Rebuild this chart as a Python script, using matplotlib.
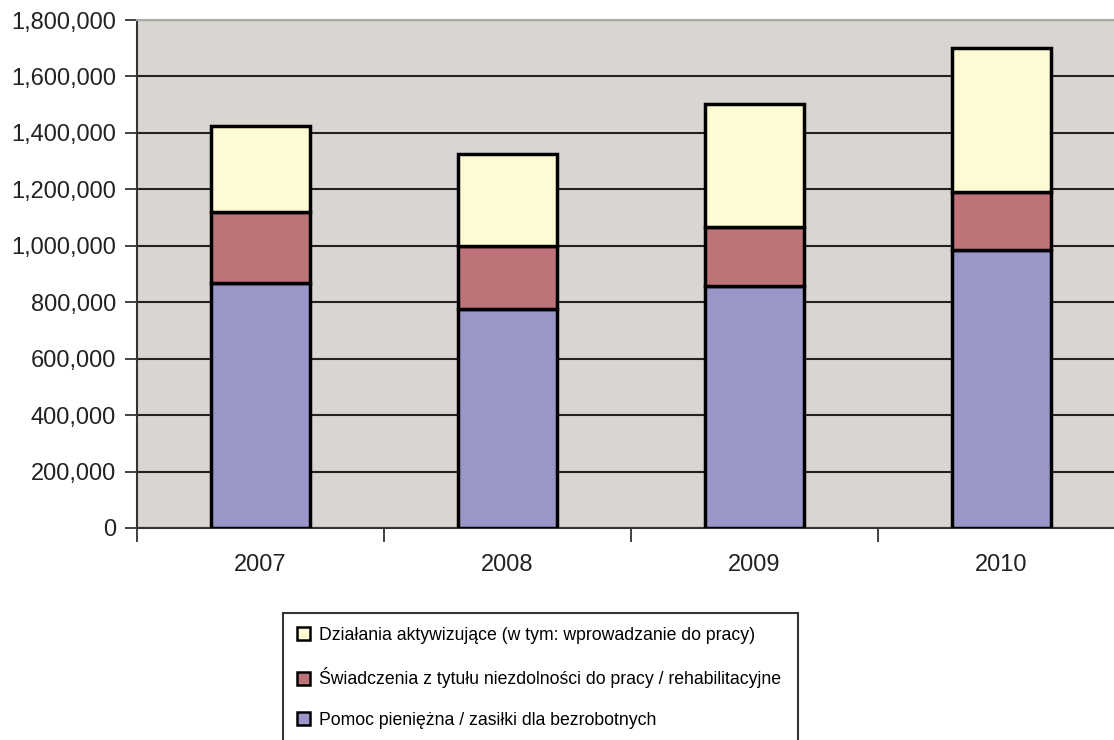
import numpy as np
import matplotlib.pyplot as plt
from matplotlib.patches import Patch

years = ['2007', '2008', '2009', '2010']
pomoc = [868000, 776000, 857000, 985000]
swiadczenia = [252000, 223000, 210000, 206000]
dzialania = [304000, 326000, 435000, 510000]

labels = ['Działania aktywizujące (w tym: wprowadzanie do pracy)',
          'Świadczenia z tytułu niezdolności do pracy / rehabilitacyjne',
          'Pomoc pieniężna / zasiłki dla bezrobotnych']
colors = ['#FEFAD4', '#BD7377', '#9B96C8']

plt.rcParams['font.family'] = ['Liberation Sans', 'DejaVu Sans']

fig = plt.figure(figsize=(11.14, 7.4), dpi=100)
ax = fig.add_axes([137 / 1114, 1 - 528 / 740, (1125 - 137) / 1114, (528 - 20) / 740])
ax.set_facecolor('#D9D5D1')

x = np.arange(len(years))
bottom2 = np.array(pomoc)
bottom3 = bottom2 + np.array(swiadczenia)
kw = dict(width=0.4, edgecolor='black', linewidth=2.5, zorder=3)
ax.bar(x, pomoc, color=colors[2], **kw)
ax.bar(x, swiadczenia, bottom=bottom2, color=colors[1], **kw)
ax.bar(x, dzialania, bottom=bottom3, color=colors[0], **kw)

ax.set_xlim(-0.5, 3.5)
ax.set_ylim(0, 1800000)
ax.set_yticks(np.arange(0, 1800001, 200000))
ax.set_yticklabels([f'{v:,}' for v in range(0, 1800001, 200000)])
ax.yaxis.grid(True, color='#222222', linewidth=1.5, zorder=1)
ax.set_axisbelow(True)

ax.set_xticks(x)
ax.set_xticklabels(years)
ax.set_xticks(np.arange(-0.5, 4, 1), minor=True)
ax.tick_params(axis='x', which='major', length=0, pad=19, labelsize=17, colors='#222222')
ax.tick_params(axis='x', which='minor', length=10, width=1.3, color='#333333')
ax.tick_params(axis='y', length=9, width=1.3, color='#333333', labelsize=17, labelcolor='#222222', pad=6)

for s in ['left', 'bottom']:
    ax.spines[s].set_color('#333333')
    ax.spines[s].set_linewidth(1.5)
ax.spines['top'].set_color('#AAAAAA')
ax.spines['top'].set_linewidth(1.5)
ax.spines['right'].set_visible(False)

handles = [Patch(facecolor=c, edgecolor='black', linewidth=1.8) for c in colors]
leg = fig.legend(handles, labels, loc='upper left',
                 bbox_to_anchor=(283 / 1114, 1 - 613 / 740, (798 - 283) / 1114, 0),
                 mode='expand', frameon=True, fancybox=False, edgecolor='black',
                 fontsize=12.7, handlelength=0.75, handleheight=0.75,
                 handletextpad=0.5, labelspacing=1.32, borderpad=0.8,
                 borderaxespad=0)
leg.get_frame().set_linewidth(1.5)

fig.savefig('out.png', dpi=100)
